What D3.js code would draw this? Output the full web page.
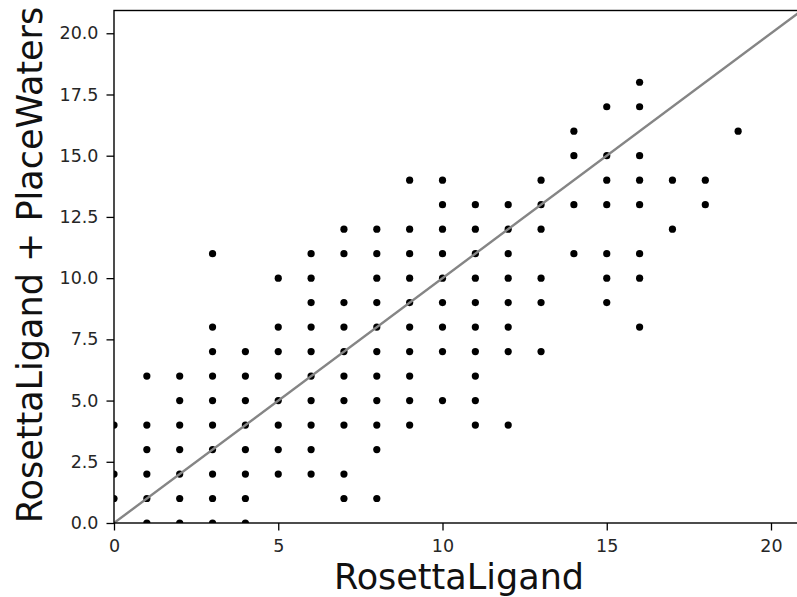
<!DOCTYPE html>
<html>
<head>
<meta charset="utf-8">
<script src="https://cdn.jsdelivr.net/npm/d3@7"></script>
<style>
  body { margin: 0; background: #fff; }
  svg { display: block; }
  .tick text { font-family: "DejaVu Sans", sans-serif; fill: #262626; }
  .axis-title { font-family: "DejaVu Sans", sans-serif; fill: #111; }
</style>
</head>
<body>
<div id="chart"></div>
<script>
// one column per RosettaLigand value, listing the PlaceWaters values seen there
const ligandValues = [0, 1, 2, 3, 4, 5, 6, 7, 8, 9, 10, 11, 12, 13, 14, 15, 16, 17, 18, 19];
const waterValues = [
  [1, 2, 4],
  [0, 1, 2, 3, 4, 6],
  [0, 1, 2, 3, 4, 5, 6],
  [0, 1, 2, 3, 4, 5, 6, 7, 8, 11],
  [0, 1, 2, 3, 4, 5, 6, 7],
  [2, 3, 4, 5, 6, 7, 8, 10],
  [2, 3, 4, 5, 6, 7, 8, 9, 10, 11],
  [1, 2, 4, 5, 6, 7, 8, 9, 11, 12],
  [1, 3, 4, 5, 6, 7, 8, 9, 10, 11, 12],
  [4, 5, 6, 7, 8, 9, 10, 11, 12, 14],
  [5, 7, 8, 9, 10, 11, 12, 13, 14],
  [4, 5, 6, 7, 8, 9, 10, 11, 12, 13],
  [4, 7, 8, 9, 10, 11, 12, 13],
  [7, 9, 10, 12, 13, 14],
  [11, 13, 15, 16],
  [9, 10, 11, 13, 14, 15, 17],
  [8, 10, 11, 13, 14, 15, 17, 18],
  [12, 14],
  [13, 14],
  [16]
];
const xTicks = [0, 5, 10, 15, 20];
const yTicks = [0, 2.5, 5, 7.5, 10, 12.5, 15, 17.5, 20];
const identityLine = [0, 21];

const width = 797, height = 597;
const margin = { top: 10.5, left: 114, bottom: 74 };

// flatten into points
const points = [];
ligandValues.forEach((lx, i) => {
  waterValues[i].forEach(wy => points.push({ x: lx, y: wy }));
});

const svg = d3.select("#chart").append("svg")
  .attr("width", width)
  .attr("height", height);

// right side of the plot runs past the picture edge (cropped figure)
const x = d3.scaleLinear().domain([0, 20.9]).range([margin.left, margin.left + 20.9 * 32.85]);
const y = d3.scaleLinear().domain([0, 20.93]).range([height - margin.bottom, margin.top]);

const plotW = x.range()[1] - margin.left;
const plotH = y.range()[0] - margin.top;

svg.append("defs").append("clipPath").attr("id", "plot-clip")
  .append("rect")
  .attr("x", margin.left).attr("y", margin.top)
  .attr("width", plotW).attr("height", plotH);

const plot = svg.append("g").attr("clip-path", "url(#plot-clip)");

plot.selectAll("circle.pt")
  .data(points)
  .enter()
  .append("circle")
  .attr("class", "pt")
  .attr("cx", d => x(d.x))
  .attr("cy", d => y(d.y))
  .attr("r", 3.6)
  .attr("fill", "#000");

plot.append("line")
  .attr("x1", x(identityLine[0])).attr("y1", y(identityLine[0]))
  .attr("x2", x(identityLine[1])).attr("y2", y(identityLine[1]))
  .attr("stroke", "#858585")
  .attr("stroke-width", 2.4);

// axes
const xAxis = svg.append("g")
  .attr("transform", `translate(0,${y(0)})`)
  .call(d3.axisBottom(x).tickValues(xTicks).tickFormat(d3.format("d")).tickSize(7.5).tickPadding(9));

const yAxis = svg.append("g")
  .attr("transform", `translate(${margin.left},0)`)
  .call(d3.axisLeft(y).tickValues(yTicks).tickFormat(d3.format(".1f")).tickSize(7.5).tickPadding(8));

[xAxis, yAxis].forEach(ax => {
  ax.select(".domain").remove();
  ax.selectAll(".tick line").attr("stroke", "#000").attr("stroke-width", 1.3);
  ax.selectAll(".tick text").attr("font-size", 17.5);
});

// frame
svg.append("rect")
  .attr("x", margin.left).attr("y", margin.top)
  .attr("width", plotW).attr("height", plotH)
  .attr("fill", "none")
  .attr("stroke", "#000")
  .attr("stroke-width", 1.4);

svg.append("text")
  .attr("class", "axis-title")
  .attr("x", 459)
  .attr("y", 589)
  .attr("text-anchor", "middle")
  .attr("font-size", 35)
  .text("RosettaLigand");

svg.append("text")
  .attr("class", "axis-title")
  .attr("transform", "translate(42,265) rotate(-90)")
  .attr("text-anchor", "middle")
  .attr("font-size", 35)
  .text("RosettaLigand + PlaceWaters");
</script>
</body>
</html>
